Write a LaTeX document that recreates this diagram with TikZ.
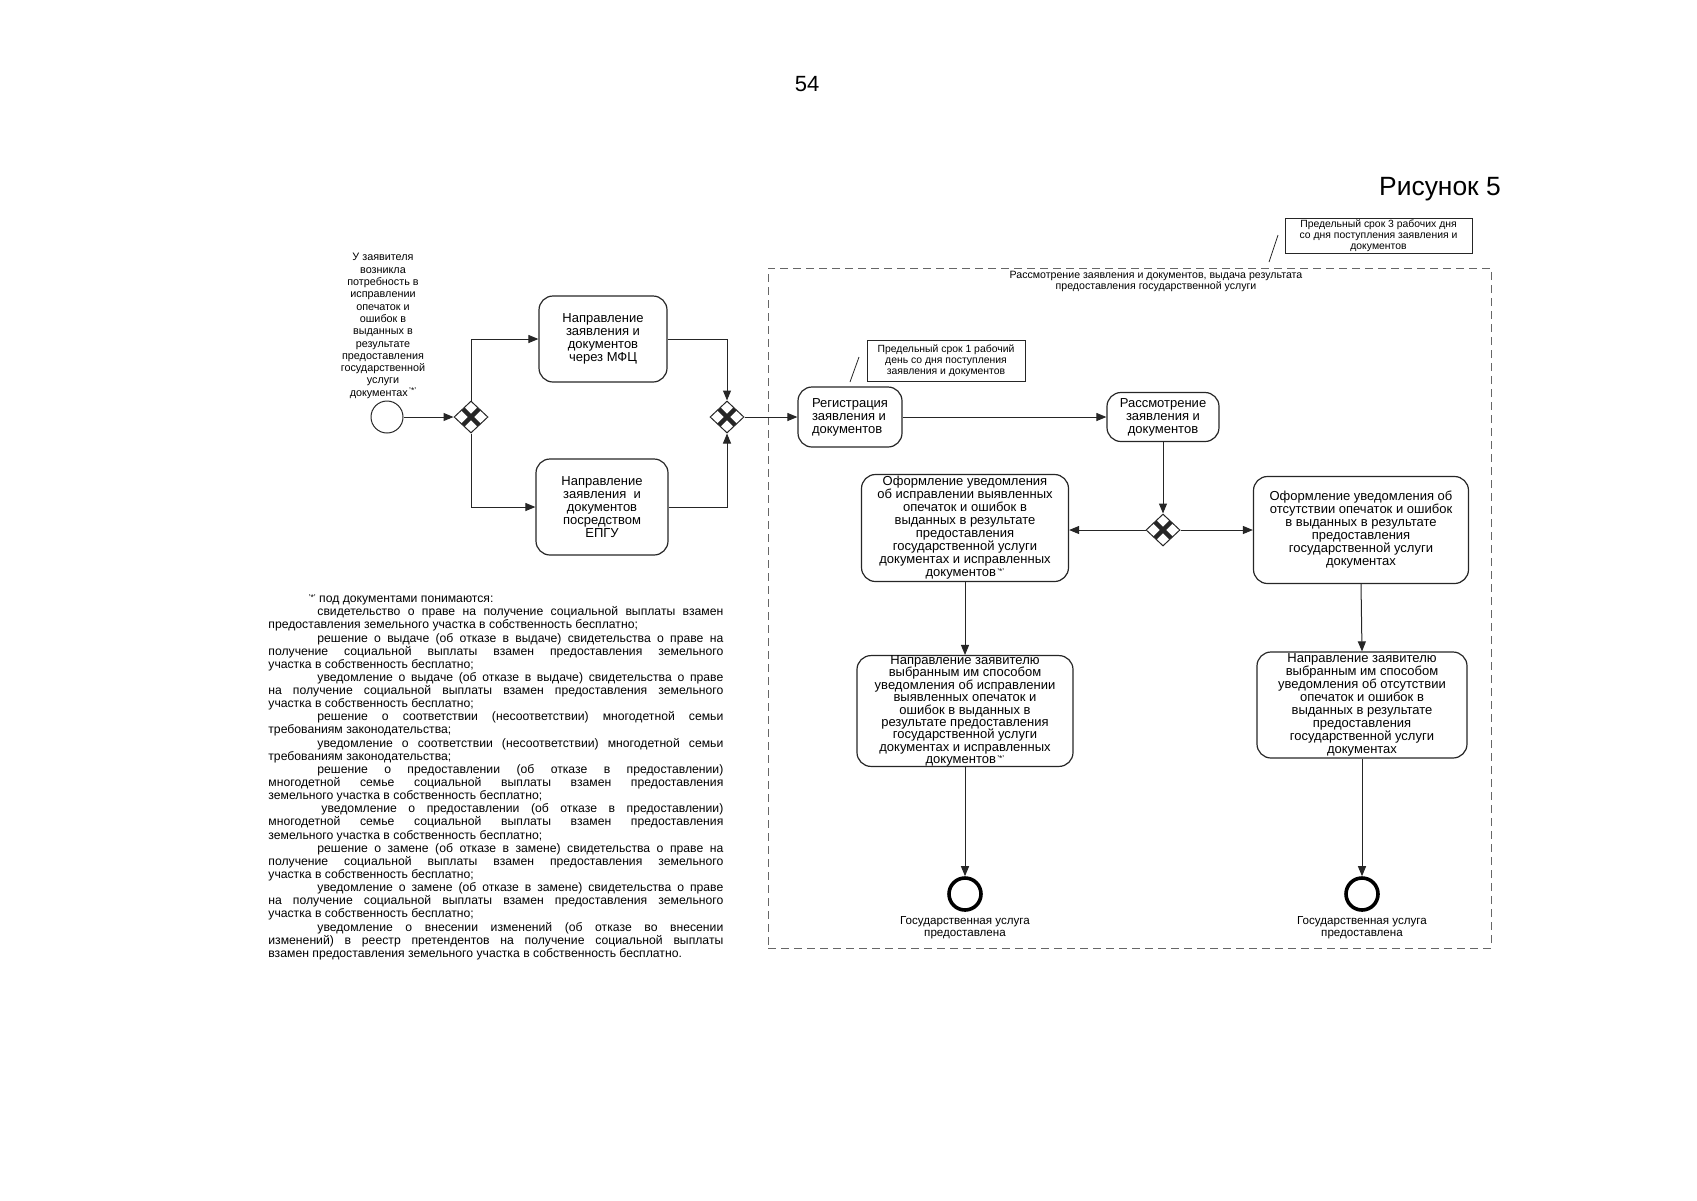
\documentclass[tikz,border=0pt]{standalone}
\usepackage{fontspec}
\setmainfont{Liberation Sans}
\usepackage{tikz}
\usetikzlibrary{shapes.geometric, arrows.meta, calc, positioning}

\newcommand{\fnmark}{\raisebox{1.2pt}{\fontsize{4.2}{4.5}\selectfont\,'*'}}

\begin{document}
\begin{tikzpicture}[x=0.5pt, y=-0.5pt, arrow/.style = {draw=black!85, line width=0.5pt, -{Stealth[length=5pt,width=4pt,inset=0pt]}}]
					\tikzset{task/.style={draw=black!85,rectangle,rounded corners=7pt,line width=0.6pt,inner sep=0pt,align=center,font=\fontsize{6.5}{6.5}\selectfont}}
					\tikzset{gate/.style={draw=black!85,diamond,inner sep=0pt,minimum width=17pt,minimum height=16pt,line width=0.5pt,
						path picture={\draw[line width=2.2pt] ([shift={(-4pt,-4pt)}]path picture bounding box.center) -- ([shift={(4pt,4pt)}]path picture bounding box.center)
							([shift={(-4pt,4pt)}]path picture bounding box.center) -- ([shift={(4pt,-4pt)}]path picture bounding box.center);}}}
					\tikzset{note/.style={draw=black!85,rectangle,inner sep=0pt,align=center,line width=0.5pt,font=\fontsize{5.2}{5.6}\selectfont}}
					\tikzset{small/.style={inner sep=0pt,align=center,font=\fontsize{5.8}{5.9}\selectfont}}

					\useasboundingbox (0,0) rectangle (1697,1200);

					% Cabecera
					\node[font=\fontsize{11}{13}\selectfont] (page) at (807,84) {54};
					\node[font=\fontsize{13.2}{15}\selectfont] (fig) at (1440,189) {Рисунок 5};

					% Inicio
					\node[small, font=\fontsize{5.4}{6.15}\selectfont] (need) at (383,326) {У заявителя\\возникла\\потребность в\\исправлении\\опечаток и\\ошибок в\\выданных в\\результате\\предоставления\\государственной\\услуги\\документах\fnmark};
					\node[draw=black!85, circle, line width=0.5pt, minimum size=16pt, inner sep=0pt] (start) at (387,417) {};
					\node[gate] (gw1) at (471,417) {};

					\node[task, minimum width=64pt, minimum height=43pt] (mfc) at (603,339) {Направление\\заявления и\\документов\\через МФЦ};
					\node[task, minimum width=66pt, minimum height=48pt] (epgu) at (602,507) {Направление\\заявления~ и\\документов\\посредством\\ЕПГУ};
					\node[gate] (gw2) at (727,417) {};

					% Rassmotrenie
					\node[draw=black!60, dashed, dash pattern=on 4pt off 2.5pt, line width=0.5pt, minimum width=361.5pt, minimum height=340pt, inner sep=0pt] (stage) at (1129.5,608) {};
					\node[small, anchor=north, font=\fontsize{5.3}{5.3}\selectfont] (stagetitle) at (1156,271) {Рассмотрение заявления и документов, выдача результата\\предоставления государственной услуги};

					\node[note, minimum width=93.5pt, minimum height=17.5pt] (term3) at (1378.5,235.5) {Предельный срок 3 рабочих дня\\со дня поступления заявления и\\документов};
					\coordinate (t3a) at (1269,262);
					\coordinate (t3b) at (1278,235);
					\draw[black!85, line width=0.4pt] (t3a) -- (t3b);

					\node[task, align=left, minimum width=52pt, minimum height=30pt] (reg) at (850,417) {Регистрация\\заявления и\\документов};
					\node[note, minimum width=79pt, minimum height=20.5pt] (term1) at (946,360.5) {Предельный срок 1 рабочий\\день со дня поступления\\заявления и документов};
					\coordinate (t1a) at (850,382);
					\coordinate (t1b) at (859,357);
					\draw[black!85, line width=0.4pt] (t1a) -- (t1b);

					\node[task, minimum width=56pt, minimum height=24.5pt] (rev) at (1163,417) {Рассмотрение\\заявления и\\документов};
					\node[gate] (gw3) at (1163,530) {};

					\node[task, minimum width=103.5pt, minimum height=53.5pt] (fixdoc) at (965,528) {Оформление уведомления\\об исправлении выявленных\\опечаток и ошибок в\\выданных в результате\\предоставления\\государственной услуги\\документах и исправленных\\документов\fnmark};
					\node[task, minimum width=107.5pt, minimum height=53.5pt] (okdoc) at (1361,530) {Оформление уведомления об\\отсутствии опечаток и ошибок\\в выданных в результате\\предоставления\\государственной услуги\\документах};

					\node[task, minimum width=108pt, minimum height=54.5pt, font=\fontsize{6.5}{6.2}\selectfont] (fixsend) at (965,711) {Направление заявителю\\выбранным им способом\\уведомления об исправлении\\выявленных опечаток и\\ошибок в выданных в\\результате предоставления\\государственной услуги\\документах и исправленных\\документов\fnmark};
					\node[task, minimum width=105pt, minimum height=53pt] (oksend) at (1362,705) {Направление заявителю\\выбранным им способом\\уведомления об отсутствии\\опечаток и ошибок в\\выданных в результате\\предоставления\\государственной услуги\\документах};

					% Fin
					\node[draw=black, circle, line width=1.8pt, minimum size=16pt, inner sep=0pt] (endfix) at (965,894) {};
					\node[draw=black, circle, line width=1.8pt, minimum size=16pt, inner sep=0pt] (endok) at (1362,894) {};
					\node[small, anchor=north] (endfixlbl) at (965,916) {Государственная услуга\\предоставлена};
					\node[small, anchor=north] (endoklbl) at (1362,916) {Государственная услуга\\предоставлена};

					% Flechas
					\draw [arrow] (start) -- (gw1);
					\draw [arrow] (gw1.north) |- (mfc.west);
					\draw [arrow] (gw1.south) |- (epgu.west);
					\draw [arrow] (mfc.east) -| (gw2.north);
					\draw [arrow] (epgu.east) -| (gw2.south);
					\draw [arrow] (gw2.east) -- (reg.west);
					\draw [arrow] (reg.east) -- (rev.west);
					\draw [arrow] (rev.south) -- (gw3.north);
					\draw [arrow] (gw3.west) -- (gw3.west -| fixdoc.east);
					\draw [arrow] (gw3.east) -- (gw3.east -| okdoc.west);
					\draw [arrow] (fixdoc.south) -- (fixsend.north);
					\draw [arrow] (okdoc.south) -- (oksend.north);
					\draw [arrow] (fixsend.south) -- (endfix.north);
					\draw [arrow] (oksend.south) -- (endok.north);

					% Nota
					\node[anchor=north west, inner sep=0pt] (footnote) at (268,594) {\parbox{227.5pt}{\fontsize{6.1}{6.57}\selectfont\setlength{\parindent}{24.5pt}\tolerance=10000\hbadness=10000\hyphenpenalty=10000
						\noindent\hspace*{19.5pt}\fnmark\ под документами понимаются:\par
						свидетельство о праве на получение социальной выплаты взамен\linebreak предоставления земельного участка в собственность бесплатно;\par
						решение о выдаче (об отказе в выдаче) свидетельства о праве на\linebreak получение социальной выплаты взамен предоставления земельного\linebreak участка в собственность бесплатно;\par
						уведомление о выдаче (об отказе в выдаче) свидетельства о праве\linebreak на получение социальной выплаты взамен предоставления земельного\linebreak участка в собственность бесплатно;\par
						решение о соответствии (несоответствии) многодетной семьи\linebreak требованиям законодательства;\par
						уведомление о соответствии (несоответствии) многодетной семьи\linebreak требованиям законодательства;\par
						решение о предоставлении (об отказе в предоставлении)\linebreak многодетной семье социальной выплаты взамен предоставления\linebreak земельного участка в собственность бесплатно;\par
						\hspace*{2pt}уведомление о предоставлении (об отказе в предоставлении)\linebreak многодетной семье социальной выплаты взамен предоставления\linebreak земельного участка в собственность бесплатно;\par
						решение о замене (об отказе в замене) свидетельства о праве на\linebreak получение социальной выплаты взамен предоставления земельного\linebreak участка в собственность бесплатно;\par
						уведомление о замене (об отказе в замене) свидетельства о праве\linebreak на получение социальной выплаты взамен предоставления земельного\linebreak участка в собственность бесплатно;\par
						уведомление о внесении изменений (об отказе во внесении\linebreak изменений) в реестр претендентов на получение социальной выплаты\linebreak взамен предоставления земельного участка в собственность бесплатно.\par}};

				\end{tikzpicture}
\end{document}
